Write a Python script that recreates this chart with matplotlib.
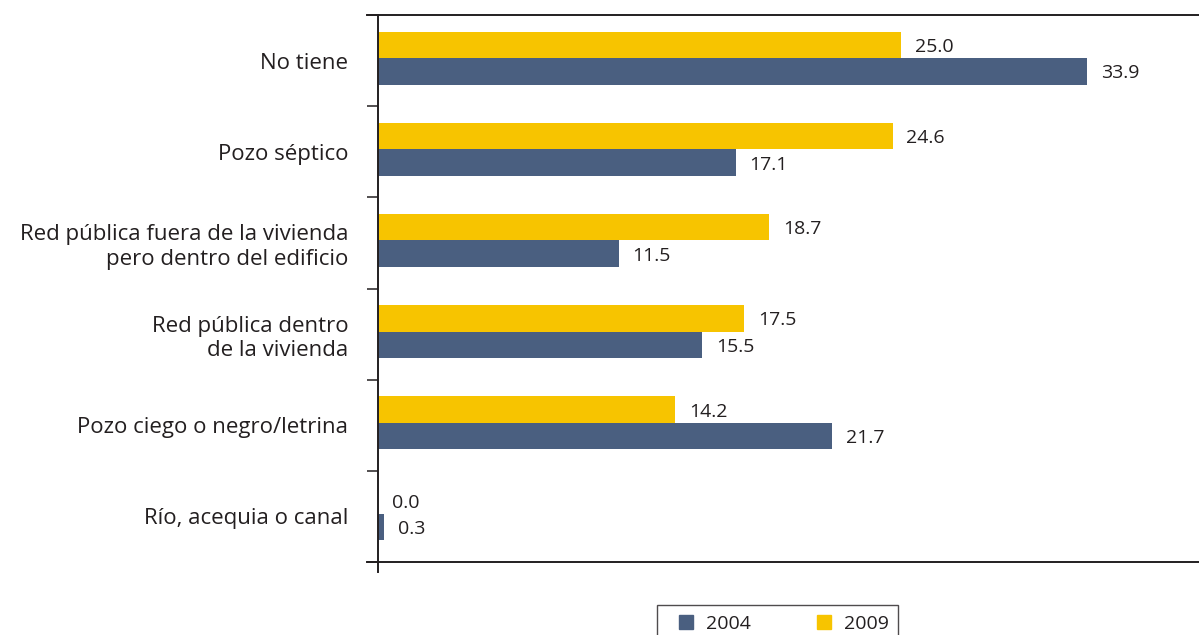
import matplotlib
matplotlib.use('Agg')
from matplotlib import pyplot as plt
from matplotlib.lines import Line2D

categories = ['No tiene', 'Pozo séptico',
              'Red pública fuera de la vivienda\npero dentro del edificio',
              'Red pública dentro\nde la vivienda',
              'Pozo ciego o negro/letrina', 'Río, acequia o canal']
values_2009 = [25.0, 24.6, 18.7, 17.5, 14.2, 0.0]
values_2004 = [33.9, 17.1, 11.5, 15.5, 21.7, 0.3]

BLUE = '#4a5f80'
YELLOW = '#f7c400'
INK = '#231f20'

plt.rcParams['font.family'] = ['Open Sans', 'DejaVu Sans']

fig = plt.figure(figsize=(11.99, 6.35), dpi=100)
ax = fig.add_axes([378 / 1199, 1 - 562 / 635, 821 / 1199, 547 / 635])

bar_h = 0.29
shift = -0.027
pos = list(range(len(categories)))
y09 = [p + shift - bar_h / 2 for p in pos]
y04 = [p + shift + bar_h / 2 for p in pos]
ax.barh(y09, values_2009, height=bar_h, color=YELLOW, label='2009')
ax.barh(y04, values_2004, height=bar_h, color=BLUE, label='2004')

for y, v in zip(y09 + y04, values_2009 + values_2004):
    ax.annotate('%.1f' % v, (v, y), xytext=(10, -1.5), textcoords='offset points',
                va='center', ha='left', fontsize=14, color=INK)

ax.set_xlim(0, 39.25)
ax.set_ylim(len(categories) - 0.5, -0.5)

for s in ax.spines.values():
    s.set_visible(False)
ax.set_xticks([])

# tick marks between categories, labels at the centres
ax.set_yticks([p - 0.5 for p in range(len(categories) + 1)])
ax.set_yticklabels([])
ax.tick_params(axis='y', which='major', length=8, width=1.1, color=INK, direction='out')
ax.set_yticks(pos, minor=True)
ax.set_yticklabels(categories, minor=True, fontsize=16, color=INK, linespacing=1.2)
ax.tick_params(axis='y', which='minor', length=0, pad=21.5)

# frame lines
lw = 1.4
ax.add_line(Line2D([-11 / 821, 1], [1, 1], transform=ax.transAxes, color=INK, lw=lw, clip_on=False))
ax.add_line(Line2D([-11 / 821, 1], [0, 0], transform=ax.transAxes, color=INK, lw=lw, clip_on=False))
ax.add_line(Line2D([0, 0], [-10 / 547, 1], transform=ax.transAxes, color=INK, lw=lw, clip_on=False))

handles = [Line2D([], [], marker='s', ls='none', markersize=10, color=BLUE, label='2004'),
           Line2D([], [], marker='s', ls='none', markersize=10, color=YELLOW, label='2009')]
leg = fig.legend(handles=handles, loc='upper left', bbox_to_anchor=(657 / 1199, 1 - 605 / 635),
                 ncol=2, frameon=True, fancybox=False, fontsize=14, handlelength=2,
                 handletextpad=0.0, columnspacing=2.8, borderpad=0.5, borderaxespad=0)
leg.get_frame().set_edgecolor(INK)
leg.get_frame().set_linewidth(1.0)
for t in leg.get_texts():
    t.set_color(INK)

plt.savefig('out.png', dpi=100)
plt.close()
